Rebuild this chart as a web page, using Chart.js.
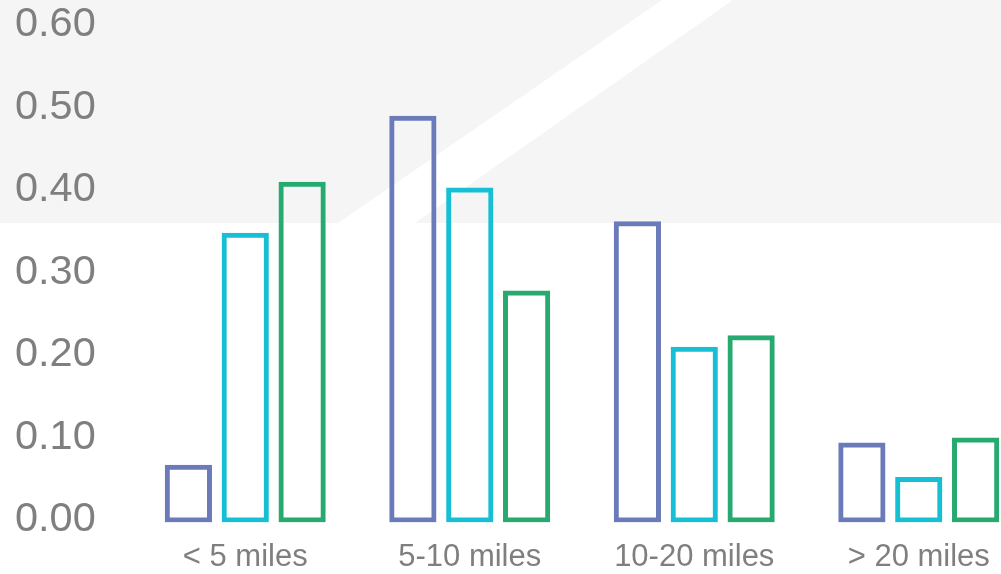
<!DOCTYPE html>
<html>
<head>
<meta charset="utf-8">
<script src="https://cdn.jsdelivr.net/npm/chart.js@4"></script>
<style>
  html, body { margin: 0; padding: 0; background: #ffffff; overflow: hidden; }
  #chart { display: block; }
</style>
</head>
<body>
<canvas id="chart" width="1031" height="574"></canvas>
<script>
// Categories and the three series
const categories = ['< 5 miles', '5-10 miles', '10-20 miles', '> 20 miles'];
const seriesA = [0.067, 0.490, 0.362, 0.094];
const seriesB = [0.348, 0.403, 0.210, 0.052];
const seriesC = [0.410, 0.278, 0.224, 0.100];
const seriesColors = ['#6b7bba', '#17bfd4', '#27a970'];

// Light gray panel with a white diagonal band behind the plot
const backdrop = {
  id: 'backdrop',
  beforeDraw(chart) {
    const ctx = chart.ctx;
    ctx.save();
    ctx.fillStyle = '#ffffff';
    ctx.fillRect(0, 0, chart.width, chart.height);
    ctx.fillStyle = '#f5f5f5';
    ctx.fillRect(0, 0, chart.width, 223);
    ctx.fillStyle = '#ffffff';
    ctx.beginPath();
    ctx.moveTo(662, 0);
    ctx.lineTo(733, 0);
    ctx.lineTo(415, 223);
    ctx.lineTo(338, 223);
    ctx.closePath();
    ctx.fill();
    ctx.restore();
  }
};

function makeSet(label, data, color) {
  return {
    label: label,
    data: data,
    borderColor: color,
    backgroundColor: 'rgba(0,0,0,0)',
    borderWidth: 5,
    borderSkipped: false,
    base: -0.003,   // outline sits a little below zero like in the original
    categoryPercentage: 0.76,
    barPercentage: 0.83
  };
}

new Chart(document.getElementById('chart').getContext('2d'), {
  type: 'bar',
  data: {
    labels: categories,
    datasets: [
      makeSet('A', seriesA, seriesColors[0]),
      makeSet('B', seriesB, seriesColors[1]),
      makeSet('C', seriesC, seriesColors[2])
    ]
  },
  options: {
    responsive: false,
    animation: false,
    layout: { padding: { top: 0, left: 15, right: 0, bottom: 0 } },
    plugins: {
      legend: { display: false },
      tooltip: { enabled: false }
    },
    scales: {
      x: {
        grid: { display: false, drawTicks: false },
        border: { display: false },
        ticks: {
          color: '#7f7f7f',
          padding: 16,
          font: { family: 'Liberation Sans', size: 31 }
        },
        afterFit(scale) { scale.height = 51.5; }
      },
      y: {
        min: -0.003,
        max: 0.6,
        grid: { display: false, drawTicks: false },
        border: { display: false },
        ticks: {
          stepSize: 0.1,
          includeBounds: false,
          color: '#7f7f7f',
          padding: 0,
          crossAlign: 'far',
          font: { family: 'Liberation Sans', size: 41.5 },
          callback: v => Number(v).toFixed(2)
        },
        afterFit(scale) { scale.width = 118; }
      }
    }
  },
  plugins: [backdrop]
});
</script>
</body>
</html>
